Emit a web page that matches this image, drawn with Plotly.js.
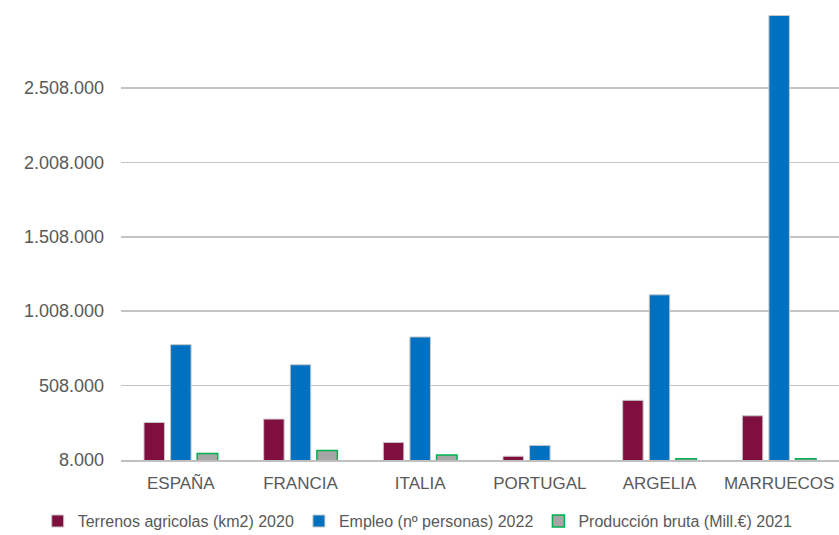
<!DOCTYPE html>
<html>
<head>
<meta charset="utf-8">
<script src="https://cdn.plot.ly/plotly-3.0.1.min.js"></script>
<style>html,body{margin:0;padding:0;background:#fff;}#chart{width:839px;height:535px;}</style>
</head>
<body>
<div id="chart"></div>
<script>
const categories = ["ESPAÑA", "FRANCIA", "ITALIA", "PORTUGAL", "ARGELIA", "MARRUECOS"];
const terrenos = [260000, 283000, 126000, 33000, 409000, 305000];
const empleo = [783000, 648000, 835000, 106000, 1118000, 2995000];
const produccion = [51000, 71000, 42000, null, 17000, 17000];
const seriesNames = ["Terrenos agricolas (km2) 2020", "Empleo (nº personas) 2022", "Producción bruta (Mill.€) 2021"];

const sans = "'Liberation Sans', Arial, sans-serif";
const textColor = "#595959";

const traces = [
  {type: "bar", x: categories, y: terrenos, name: seriesNames[0],
   marker: {color: "#7f0f3e", line: {color: "#c8c8c8", width: 1}}},
  {type: "bar", x: categories, y: empleo, name: seriesNames[1],
   marker: {color: "#0070c0", line: {color: "#c8c8c8", width: 1}}},
  {type: "bar", x: categories, y: produccion, name: seriesNames[2],
   marker: {color: "#a6a6a6", line: {color: "#00b050", width: 1.5}}}
];

const layout = {
  width: 839, height: 535,
  margin: {l: 121, r: 0, t: 14, b: 75, pad: 0, autoexpand: false},
  paper_bgcolor: "#fff", plot_bgcolor: "#fff",
  separators: ",.",
  barmode: "group", bargap: 0.333, bargroupgap: 0.23,
  showlegend: true,
  legend: {orientation: "h", x: -0.116, y: -0.137,
           xanchor: "left", yanchor: "middle",
           font: {family: sans, size: 16, color: textColor}, itemwidth: 30, traceorder: "normal"},
  xaxis: {type: "category", showgrid: false, showline: true, linecolor: "#bfbfbf", linewidth: 2,
          ticks: "", tickfont: {family: sans, size: 17, color: textColor}, ticklabelstandoff: 7},
  yaxis: {range: [8000, 3005000], tick0: 8000, dtick: 500000, tickformat: ",d",
          showgrid: true, gridcolor: "#c4c4c4", gridwidth: 1.5, zeroline: false, showline: false,
          ticks: "", ticklabelstandoff: 16,
          tickfont: {family: sans, size: 18, color: textColor}}
};

Plotly.newPlot("chart", traces, layout, {staticPlot: true, displayModeBar: false});
</script>
</body>
</html>
